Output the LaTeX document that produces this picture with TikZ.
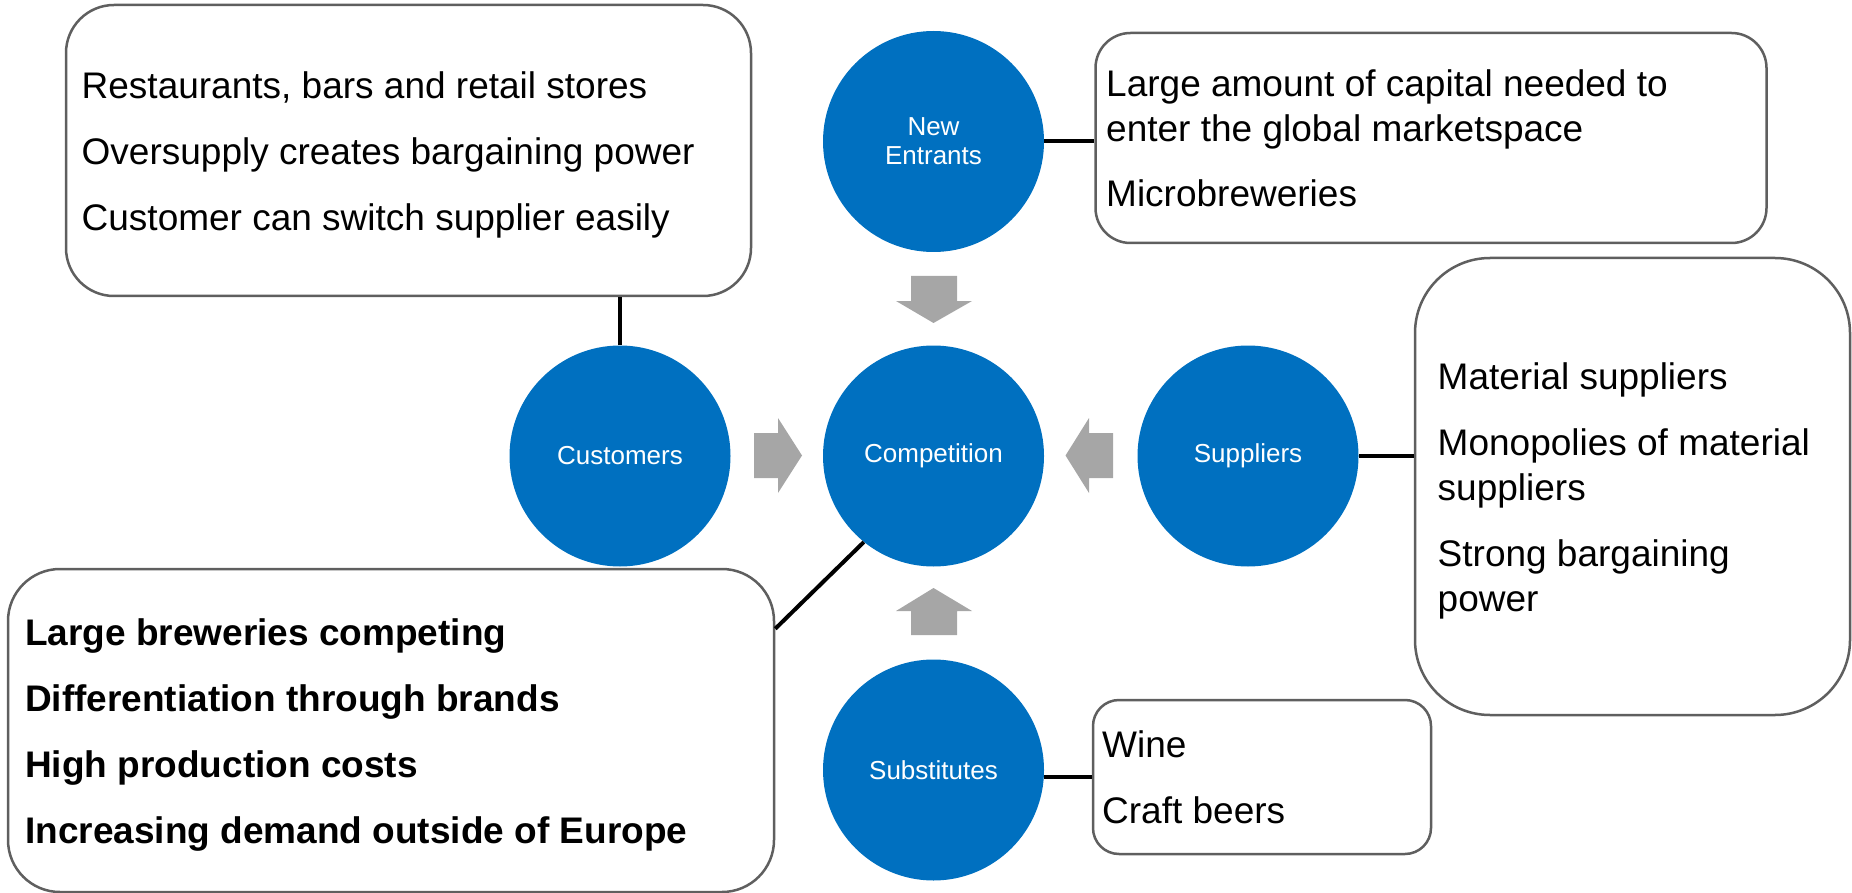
\documentclass[tikz,border=0pt]{standalone}
\usepackage{fontspec}
\setmainfont{Liberation Sans}
\definecolor{forceblue}{HTML}{0070C0}
\definecolor{arrowgray}{HTML}{A6A6A6}
\definecolor{boxgray}{HTML}{5F5F5F}
\begin{document}
\begin{tikzpicture}[x=1pt,y=-1pt,
  force/.style={circle,fill=forceblue,minimum size=221pt,inner sep=0pt,text=white,
    align=center,font=\fontsize{26}{29}\selectfont},
  infobox/.style={draw=boxgray,line width=2.5pt,fill=white,rectangle,inner sep=0pt},
  item/.style={anchor=base west,inner sep=0pt,font=\fontsize{37}{45}\selectfont},
  bolditem/.style={item,font=\fontsize{37}{45}\selectfont\bfseries},
  link/.style={draw=black,line width=4pt},
  blockarrow/.style={fill=arrowgray}]
\useasboundingbox (0,0) rectangle (1852,893);

% the five forces
\node[force] (newc)  at (933.5,141.5) {New\\Entrants};
\node[force] (custc) at (620,456) {Customers};
\node[force] (compc) at (933.5,456) {Competition};
\node[force] (supc)  at (1248,456) {Suppliers};
\node[force] (subc)  at (933.5,770) {Substitutes};

% description boxes
\node[infobox,rounded corners=48pt,minimum width=685pt,minimum height=291pt] (custbox) at (408.5,150.5) {};
\node[infobox,rounded corners=35pt,minimum width=671pt,minimum height=210pt] (newbox) at (1431,138) {};
\node[infobox,rounded corners=75pt,minimum width=435pt,minimum height=457pt] (supbox) at (1632.5,486.5) {};
\node[infobox,rounded corners=26pt,minimum width=338pt,minimum height=154pt] (subbox) at (1262,777) {};
\node[infobox,rounded corners=52pt,minimum width=766pt,minimum height=323pt] (compbox) at (391,730.5) {};

% connectors between forces and boxes
\draw[link] (custc.north) -- (custc.north |- custbox.south);
\draw[link] (newc.east) -- (newc.east -| newbox.west);
\draw[link] (supc.east) -- (supc.east -| supbox.west);
\draw[link] (subbox.west) -- (subbox.west -| subc.east);
\coordinate (compjoin) at ([yshift=-61pt]compbox.north east);
\draw[link] (compc.231) -- (compjoin);

% block arrows pointing at the competition circle
\fill[blockarrow] (911,276) -- (957,276) -- (957,301) -- (972,301) -- (933.5,323) -- (896,301) -- (911,301) -- cycle;
\fill[blockarrow] (754,433) -- (778,433) -- (778,418) -- (802,455.5) -- (778,493) -- (778,478) -- (754,478) -- cycle;
\fill[blockarrow] (1113,433) -- (1089,433) -- (1089,418) -- (1065.5,455.5) -- (1089,493) -- (1089,478) -- (1113,478) -- cycle;
\fill[blockarrow] (911,635) -- (957,635) -- (957,611) -- (972,611) -- (933.5,588) -- (896,611) -- (911,611) -- cycle;

% customers
\node[item] (c1) at (81.5,99)  {Restaurants, bars and retail stores};
\node[item] (c2) at (81.5,165) {Oversupply creates bargaining power};
\node[item] (c3) at (81.5,231) {Customer can switch supplier easily};

% new entrants
\node[item] (n1) at (1106,97)  {Large amount of capital needed to};
\node[item] (n2) at (1106,142) {enter the global marketspace};
\node[item] (n3) at (1106,207) {Microbreweries};

% suppliers
\node[item] (s1) at (1437.5,389) {Material suppliers};
\node[item] (s2) at (1437.5,455) {Monopolies of material};
\node[item] (s3) at (1437.5,500) {suppliers};
\node[item] (s4) at (1437.5,566) {Strong bargaining};
\node[item] (s5) at (1437.5,611) {power};

% substitutes
\node[item] (b1) at (1102,757) {Wine};
\node[item] (b2) at (1102,823) {Craft beers};

% competition
\node[bolditem] (k1) at (25,645) {Large breweries competing};
\node[bolditem] (k2) at (25,711) {Differentiation through brands};
\node[bolditem] (k3) at (25,777) {High production costs};
\node[bolditem] (k4) at (25,843) {Increasing demand outside of Europe};
\end{tikzpicture}
\end{document}
